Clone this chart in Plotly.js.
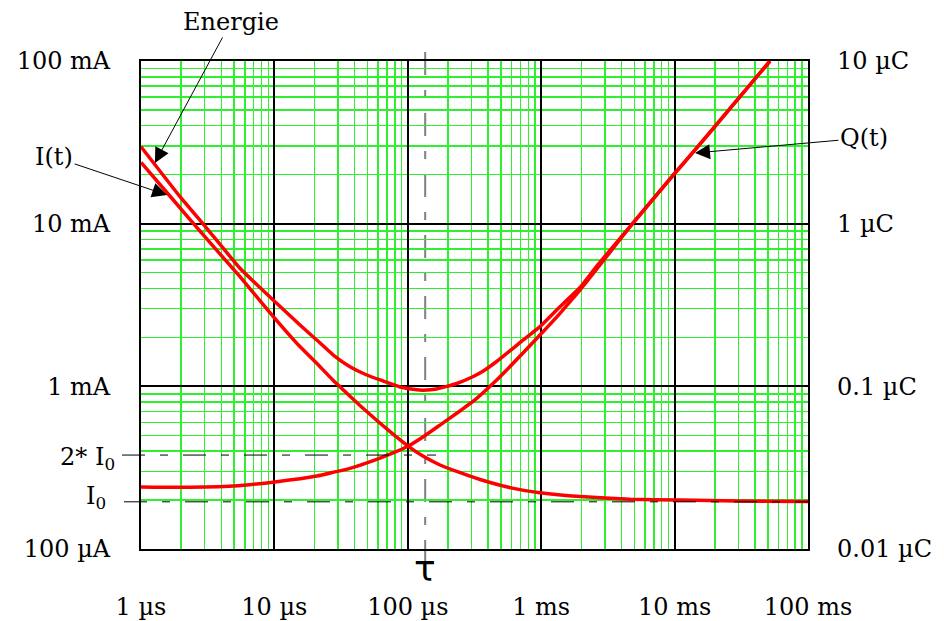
<!DOCTYPE html>
<html>
<head>
<meta charset="utf-8">
<script src="https://cdn.plot.ly/plotly-3.0.1.min.js"></script>
<style>
  html, body { margin: 0; padding: 0; background: #ffffff; }
  #chart { width: 944px; height: 621px; }
</style>
</head>
<body>
<div id="chart"></div>
<script>
// ---- data (time in µs) ----
const energyT = [1, 1.96, 3.11, 5.52, 10.1, 15.56, 20.76, 27.64, 36.87, 49.2, 65.5, 87.4, 116.6, 130.7, 164.7, 232.6, 309.7, 368.1, 463.6, 734.6, 979, 1306, 1954, 2608, 4634, 9780, 14650, 24590, 51900];
const energyV = [29.7, 14.65, 9.37, 5.32, 3.31, 2.383, 1.927, 1.558, 1.320, 1.174, 1.078, 0.991, 0.952, 0.947, 0.963, 1.041, 1.149, 1.243, 1.421, 1.93, 2.33, 2.95, 4.05, 5.49, 9.58, 19.9, 29.2, 48.3, 100];

const currentT = [1, 1.747, 2.93, 5.52, 9.81, 15.6, 20.76, 27.64, 36.87, 46.4, 73.6, 100.9, 130.7, 174.3, 232.6, 347.7, 618, 979, 1954, 4634, 10970, 29380, 100000];
const currentV = [23.8, 13.98, 8.52, 4.72, 2.687, 1.75, 1.385, 1.086, 0.870, 0.730, 0.526, 0.428, 0.3714, 0.3284, 0.2996, 0.2675, 0.236, 0.222, 0.210, 0.202, 0.200, 0.197, 0.196]; // mA

const chargeT = [1, 1.96, 4.92, 10.4, 20.8, 27.5, 36.9, 58.5, 73.6, 100.9, 130.7, 174.3, 232.6, 328.6, 463.9, 551.3, 979, 1383, 1954, 2759, 4634, 9780, 14650, 24590, 51900];
const chargeV = [0.02405, 0.02395, 0.02439, 0.02593, 0.02810, 0.0296, 0.03133, 0.03559, 0.03826, 0.04297, 0.04902, 0.0578, 0.0683, 0.0844, 0.1094, 0.1260, 0.2068, 0.2812, 0.391, 0.557, 0.958, 1.992, 2.92, 4.83, 10]; // µC

const tau = 135;      // µs
const I0 = 0.195;     // mA
const twoI0 = 0.378;  // mA

const xTickVals = [1, 10, 100, 1000, 10000, 100000];
const xTickText = ['1 µs', '10 µs', '100 µs', '1 ms', '10 ms', '100 ms'];
const yTickVals = [0.1, 1, 10, 100];
const yTickText = ['100 µA', '1 mA', '10 mA', '100 mA'];
const y2TickVals = [0.01, 0.1, 1, 10];
const y2TickText = ['0.01 µC', '0.1 µC', '1 µC', '10 µC'];

// ---- styling ----
const FONT = 'DejaVu Serif';
const FS = 24;
const RED = '#ff0000';
const GREEN = '#2ef02e';
const DASH = '23px,15px,8px,15px';

function minorVals(lo, hi) {
  const out = [];
  for (let d = lo; d < hi; d++) for (let k = 2; k <= 9; k++) out.push(k * Math.pow(10, d));
  return out;
}

const curveLine = { color: RED, width: 3.5, shape: 'spline', smoothing: 0.4 };
const traces = [
  { x: currentT, y: currentV, mode: 'lines', line: curveLine, name: 'I(t)', hoverinfo: 'skip' },
  { x: energyT, y: energyV, mode: 'lines', line: curveLine, name: 'Energie', hoverinfo: 'skip' },
  { x: chargeT, y: chargeV, yaxis: 'y2', mode: 'lines', line: curveLine, name: 'Q(t)', hoverinfo: 'skip' }
];

const L = 141, R = 808, T = 61, B = 549;
const W = 944, H = 621;
const pw = R - L, ph = B - T;
const px2paper = px => (px - L) / pw;
const py2paper = py => (B - py) / ph;

const axisCommon = {
  type: 'log', showgrid: true, gridcolor: '#000000', gridwidth: 2,
  showline: true, mirror: true, linecolor: '#000000', linewidth: 2,
  ticks: '', zeroline: false, tickmode: 'array',
  tickfont: { family: FONT, size: FS, color: '#000000' }
};

const layout = {
  width: W, height: H,
  margin: { l: L, r: W - R, t: T, b: H - B, pad: 0 },
  paper_bgcolor: '#ffffff', plot_bgcolor: '#ffffff',
  showlegend: false,
  font: { family: FONT, size: FS, color: '#000000' },
  xaxis: Object.assign({}, axisCommon, {
    range: [0, 5], tickvals: xTickVals, ticktext: xTickText, ticklabelstandoff: 35,
    minor: { tickmode: 'array', tickvals: minorVals(0, 5), showgrid: true, gridcolor: GREEN, gridwidth: 1.5, ticks: '' }
  }),
  yaxis: Object.assign({}, axisCommon, {
    range: [-1, 2], tickvals: yTickVals, ticktext: yTickText, ticklabelstandoff: 24,
    minor: { tickmode: 'array', tickvals: minorVals(-1, 2), showgrid: true, gridcolor: GREEN, gridwidth: 1.5, ticks: '' }
  }),
  yaxis2: {
    type: 'log', overlaying: 'y', side: 'right', range: [-2, 1],
    tickmode: 'array', tickvals: y2TickVals, ticktext: y2TickText,
    showgrid: false, zeroline: false, showline: false, ticks: '', ticklabelstandoff: 28,
    tickfont: { family: FONT, size: FS, color: '#000000' }
  },
  shapes: [
    { type: 'line', layer: 'between', xref: 'x', yref: 'paper', x0: tau, x1: tau, y0: py2paper(52), y1: py2paper(562),
      line: { color: '#808080', width: 2, dash: DASH } },
    { type: 'line', xref: 'paper', yref: 'y', x0: px2paper(122), x1: px2paper(436), y0: twoI0, y1: twoI0,
      line: { color: '#000000', width: 1, dash: DASH } },
    { type: 'line', xref: 'paper', yref: 'y', x0: px2paper(124), x1: 1, y0: I0, y1: I0,
      line: { color: '#000000', width: 1, dash: DASH } }
  ],
  annotations: [
    { text: 'Energie', xref: 'x', yref: 'y', x: Math.log10(1.27), y: Math.log10(23.6), ax: 76, ay: -141,
      showarrow: true, arrowhead: 2, arrowsize: 3, arrowwidth: 1, arrowcolor: '#000000',
      font: { family: FONT, size: FS, color: '#000000' } },
    { text: 'I(t)', xref: 'x', yref: 'y', x: Math.log10(1.57), y: Math.log10(15.0), ax: -113, ay: -38,
      showarrow: true, arrowhead: 2, arrowsize: 3, arrowwidth: 1, arrowcolor: '#000000',
      font: { family: FONT, size: FS, color: '#000000' } },
    { text: 'Q(t)', xref: 'x', yref: 'y2', x: Math.log10(14220), y: Math.log10(2.72), ax: 169, ay: -15,
      showarrow: true, arrowhead: 2, arrowsize: 3, arrowwidth: 1, arrowcolor: '#000000',
      font: { family: FONT, size: FS, color: '#000000' } },
    { text: '2* I<sub>0</sub>', xref: 'paper', yref: 'y', x: px2paper(117), y: Math.log10(twoI0),
      xanchor: 'right', yanchor: 'middle', yshift: -3, showarrow: false,
      font: { family: FONT, size: FS, color: '#000000' } },
    { text: 'I<sub>0</sub>', xref: 'paper', yref: 'y', x: px2paper(108), y: Math.log10(I0),
      xanchor: 'right', yanchor: 'middle', yshift: 4, showarrow: false,
      font: { family: FONT, size: FS, color: '#000000' } },
    { text: 'τ', xref: 'x', yref: 'paper', x: Math.log10(tau), y: py2paper(568),
      xanchor: 'center', yanchor: 'middle', showarrow: false,
      font: { family: 'DejaVu Sans', size: 36, color: '#000000' } }
  ]
};

Plotly.newPlot('chart', traces, layout, { displayModeBar: false, staticPlot: true });
</script>
</body>
</html>
